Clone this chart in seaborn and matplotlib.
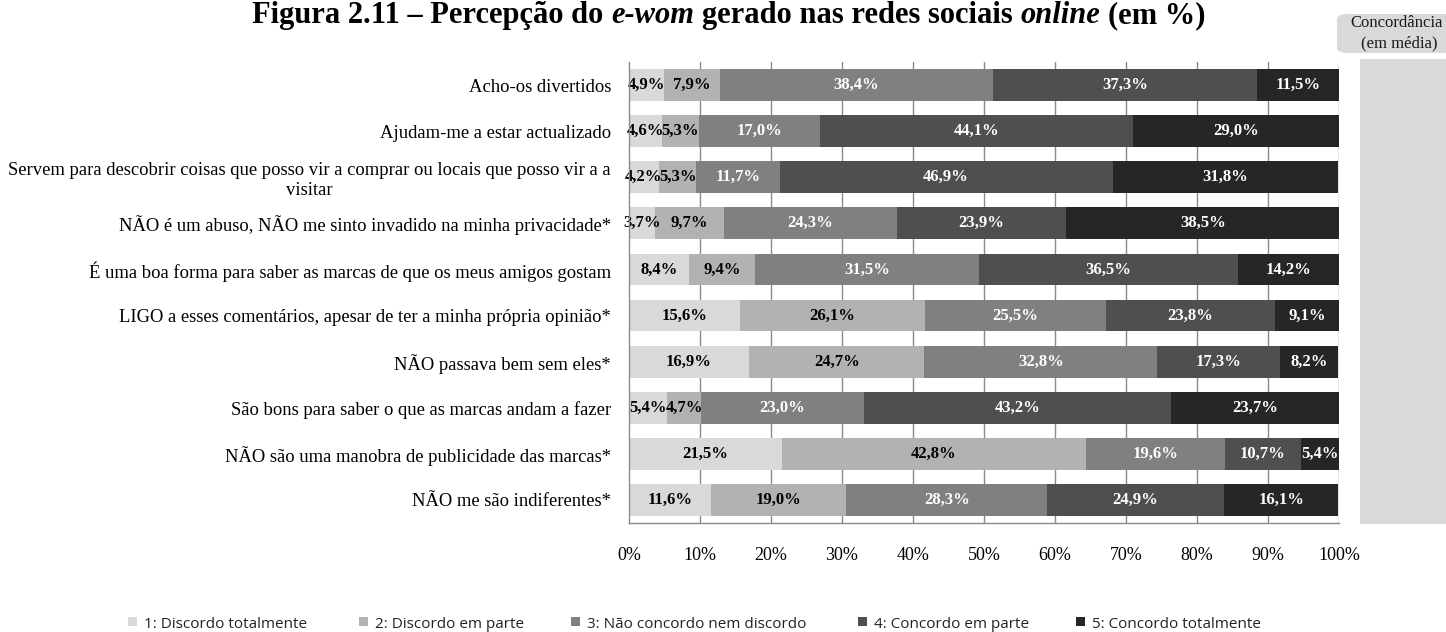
import numpy as np
import pandas as pd
import matplotlib
matplotlib.use("Agg")
import matplotlib.pyplot as plt
import seaborn as sns
from matplotlib.patches import Rectangle, FancyBboxPatch
from matplotlib import transforms

# ---- data -------------------------------------------------------------
statements = [
    "Acho-os divertidos",
    "Ajudam-me a estar actualizado",
    "Servem para descobrir coisas que posso vir a comprar ou locais que posso vir a a\nvisitar",
    "NÃO é um abuso, NÃO me sinto invadido na minha privacidade*",
    "É uma boa forma para saber as marcas de que os meus amigos gostam",
    "LIGO a esses comentários, apesar de ter a minha própria opinião*",
    "NÃO passava bem sem eles*",
    "São bons para saber o que as marcas andam a fazer",
    "NÃO são uma manobra de publicidade das marcas*",
    "NÃO me são indiferentes*",
]
discordo_totalmente = [4.9, 4.6, 4.2, 3.7, 8.4, 15.6, 16.9, 5.4, 21.5, 11.6]
discordo_em_parte = [7.9, 5.3, 5.3, 9.7, 9.4, 26.1, 24.7, 4.7, 42.8, 19.0]
nem_concordo_nem_discordo = [38.4, 17.0, 11.7, 24.3, 31.5, 25.5, 32.8, 23.0, 19.6, 28.3]
concordo_em_parte = [37.3, 44.1, 46.9, 23.9, 36.5, 23.8, 17.3, 43.2, 10.7, 24.9]
concordo_totalmente = [11.5, 29.0, 31.8, 38.5, 14.2, 9.1, 8.2, 23.7, 5.4, 16.1]
concordancia_media = [3.43, 3.88, 3.97, 3.84, 3.39, 2.85, 2.75, 3.75, 2.36, 3.15]

scale_labels = [
    "1: Discordo totalmente",
    "2: Discordo em parte",
    "3: Não concordo nem discordo",
    "4: Concordo em parte",
    "5: Concordo totalmente",
]
xtick_values = list(range(0, 101, 10))

# ---- styling ----------------------------------------------------------
sns.set_theme(style="white")
plt.rcParams["font.family"] = ["Liberation Serif", "DejaVu Serif"]

W, H = 1446, 632
level_colors = ["#d9d9d9", "#b2b2b2", "#808080", "#4f4f4f", "#262626"]
label_colors = ["black", "black", "white", "white", "white"]
grid_grey = "#8a8a8a"

levels = [discordo_totalmente, discordo_em_parte, nem_concordo_nem_discordo,
          concordo_em_parte, concordo_totalmente]

df = pd.DataFrame({"statement": statements})
for i, vals in enumerate(levels):
    df[f"n{i + 1}"] = vals
cums = np.cumsum(np.array(levels), axis=0)  # cumulative right edges per level

fig = plt.figure(figsize=(W / 100, H / 100), dpi=100)
ax = fig.add_axes([629 / W, 1 - 523 / H, (1339 - 629) / W, (523 - 62) / H])

# vertical gridlines behind the bars
for xv in xtick_values[1:]:
    ax.axvline(xv, color=grid_grey, lw=1.0, zorder=0)

# stacked bars: draw the longest cumulative total first, shorter ones on top
for i in range(4, -1, -1):
    sns.barplot(x=cums[i], y=df["statement"], orient="h", color=level_colors[i],
                saturation=1, width=0.69, ax=ax, zorder=2, linewidth=0)

# segment labels
for i, vals in enumerate(levels):
    for r, v in enumerate(vals):
        centre = cums[i][r] - v / 2
        ax.text(centre, r, f"{v:.1f}%".replace(".", ","), ha="center", va="center",
                fontsize=12, fontweight="bold", color=label_colors[i], zorder=5)

ax.set_xlim(0, 100)
ax.set_ylim(len(statements) - 0.5, -0.5)
ax.set_xlabel("")
ax.set_ylabel("")
ax.set_xticks(xtick_values)
ax.set_xticklabels([f"{v}%" for v in xtick_values], fontsize=13, color="black")
ax.tick_params(axis="x", length=5, width=1, color=grid_grey, pad=12, direction="out")
ax.tick_params(axis="y", which="major", length=0, pad=13, labelsize=13.4, labelcolor="black")
ax.set_yticks(np.arange(-0.5, len(statements) + 0.5, 1.0), minor=True)
ax.tick_params(axis="y", which="minor", length=5, width=1, color=grid_grey, direction="out")
for lbl in ax.get_yticklabels():
    lbl.set_multialignment("center")

for side in ["top", "right"]:
    ax.spines[side].set_visible(False)
for side in ["left", "bottom"]:
    ax.spines[side].set_color(grid_grey)
    ax.spines[side].set_linewidth(1.0)
    ax.spines[side].set_zorder(6)

# mean agreement column on the right
fig.patches.append(Rectangle((1360 / W, 1 - 524 / H), (W - 1360) / W, (524 - 59) / H,
                             transform=fig.transFigure, facecolor="#d9d9d9",
                             edgecolor="none", zorder=0))
blend = transforms.blended_transform_factory(fig.transFigure, ax.transData)
for r, m in enumerate(concordancia_media):
    ax.text(1404 / W, r, f"{m:.2f}".replace(".", ","), transform=blend, ha="center",
            va="center", fontsize=14, color="#1a1a1a", clip_on=False)

fig.patches.append(FancyBboxPatch((1337 / W, 1 - 53 / H), (W + 40 - 1337) / W, 39 / H,
                                  boxstyle="round,pad=0,rounding_size=0.008",
                                  transform=fig.transFigure, facecolor="#d9d9d9",
                                  edgecolor="none", zorder=0))
fig.text(1397 / W, 1 - 23 / H, "Concordância", ha="center", va="center", fontsize=12,
         color="#1a1a1a")
fig.text(1399 / W, 1 - 43 / H, "(em média)", ha="center", va="center", fontsize=12,
         color="#1a1a1a")

# title with italic terms
renderer = fig.canvas.get_renderer()
title_parts = [("Figura 2.11 – Percepção do", "normal"), ("e-wom", "italic"),
               ("gerado nas redes sociais", "normal"), ("online", "italic"),
               ("(em %)", "normal")]
title_kw = dict(fontsize=22, fontweight="bold", color="black", va="baseline")
probe_a = fig.text(0, 0, "x x", **title_kw)
probe_b = fig.text(0, 0, "xx", **title_kw)
space_w = (probe_a.get_window_extent(renderer).width
           - probe_b.get_window_extent(renderer).width)
probe_a.remove()
probe_b.remove()
title_y = 1 - 23 / H
pieces = [fig.text(0, title_y, s, fontstyle=st, **title_kw) for s, st in title_parts]
widths = [p.get_window_extent(renderer).width for p in pieces]
total = sum(widths) + space_w * (len(pieces) - 1)
x_px = 1205 - total
for p, w in zip(pieces, widths):
    p.set_x(x_px / W)
    x_px += w + space_w

# legend row
legend_sq = [128, 359, 571, 858, 1076]
for i, (lab, xs) in enumerate(zip(scale_labels, legend_sq)):
    fig.patches.append(Rectangle((xs / W, 1 - 626 / H), 9 / W, 9 / H,
                                 transform=fig.transFigure, facecolor=level_colors[i],
                                 edgecolor="none"))
    fig.text((xs + 16) / W, 1 - 627.5 / H, lab, ha="left", va="baseline",
             fontsize=11, color="#222222", family=["Open Sans", "DejaVu Sans"])

fig.savefig("out.png", dpi=100)
